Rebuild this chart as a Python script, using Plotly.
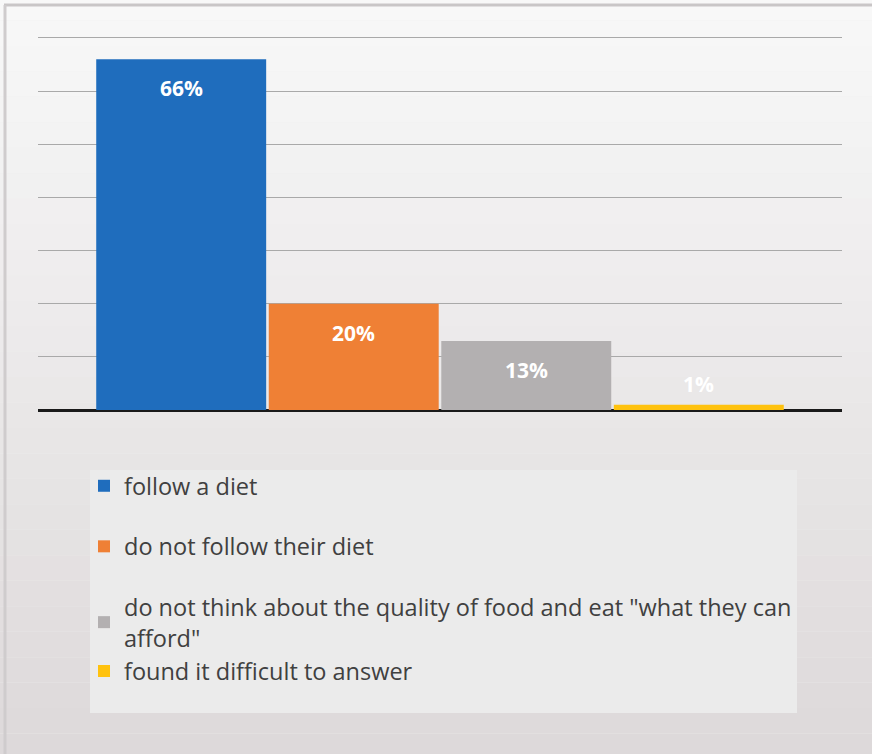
import plotly.graph_objects as go

# Survey answers and their shares (percent)
answers = [
    "follow a diet",
    "do not follow their diet",
    "do not think about the quality of food and eat \"what they can<br>afford\"",
    "found it difficult to answer",
]
shares = [66, 20, 13, 1]
colors = ["#1f6dbd", "#ef8035", "#b3b0b1", "#ffc20e"]
groups = ["g1", "g2", "g3", "g3"]
y_ticks = [0, 10, 20, 30, 40, 50, 60, 70]
y_max = 70.35

W, H = 872, 754
L, R, T, B = 38, 30, 36, 344
PW, PH = W - L - R, H - T - B


def px_x(x):
    return (x - L) / PW


def px_y(y):
    return (H - B - y) / PH


fig = go.Figure()

for i, (name, val, col, grp) in enumerate(zip(answers, shares, colors, groups)):
    fig.add_trace(go.Bar(
        x=[i], y=[val], name=name, marker_color=col, width=0.985,
        marker_line_width=0, legendgroup=grp, hoverinfo="skip",
    ))
    # value label near the top of each bar (above it when the bar is very short)
    fig.add_annotation(
        x=i, y=val, text=f"<b>{val}%</b>", showarrow=False,
        yanchor="middle", yshift=(-29 if val >= 5 else 21),
        font=dict(family="Open Sans", size=21, color="white"),
    )

# vertical background gradient, light at the top, greyer at the bottom
n = 30
top, bot = (248, 248, 248), (221, 217, 218)
for k in range(n):
    t = k / (n - 1)
    c = tuple(round(top[j] + (bot[j] - top[j]) * t) for j in range(3))
    fig.add_shape(type="rect", xref="paper", yref="paper", layer="below",
                  x0=px_x(-5), x1=px_x(W + 5),
                  y0=px_y(-5 + (k + 1) * (H + 10) / n), y1=px_y(-5 + k * (H + 10) / n),
                  fillcolor=f"rgb{c}", line_width=0)

# frame lines along the top and left edges
fig.add_shape(type="line", xref="paper", yref="paper", layer="below",
              x0=px_x(4), x1=px_x(W), y0=px_y(5), y1=px_y(5),
              line=dict(color="#c9c6c7", width=3))
fig.add_shape(type="line", xref="paper", yref="paper", layer="below",
              x0=px_x(5), x1=px_x(5), y0=px_y(5), y1=px_y(H),
              line=dict(color="#cfcccd", width=3))

# legend panel
fig.add_shape(type="rect", xref="paper", yref="paper", layer="below",
              x0=px_x(90), x1=px_x(797), y0=px_y(713), y1=px_y(470),
              fillcolor="#ebebeb", line_width=0)

fig.update_layout(
    width=W, height=H,
    margin=dict(l=L, r=R, t=T, b=B, autoexpand=False),
    paper_bgcolor="#eeeeee", plot_bgcolor="rgba(0,0,0,0)",
    barmode="overlay",
    xaxis=dict(range=[-0.83, 3.83], showticklabels=False, showgrid=False,
               zeroline=False, showline=False, fixedrange=True),
    yaxis=dict(range=[0, y_max], tickvals=y_ticks, showticklabels=False,
               showgrid=True, gridcolor="#a9a9a9", gridwidth=1.2,
               zeroline=True, zerolinecolor="#1a1a1a", zerolinewidth=2.5,
               fixedrange=True),
    showlegend=True,
    legend=dict(
        x=px_x(84), y=px_y(464), xanchor="left", yanchor="top",
        bgcolor="rgba(0,0,0,0)", borderwidth=0,
        font=dict(family="Open Sans", size=23.5, color="#404040"),
        tracegroupgap=27, itemwidth=30, traceorder="grouped",
    ),
    font=dict(family="Open Sans"),
)

fig.write_html("out.html")
